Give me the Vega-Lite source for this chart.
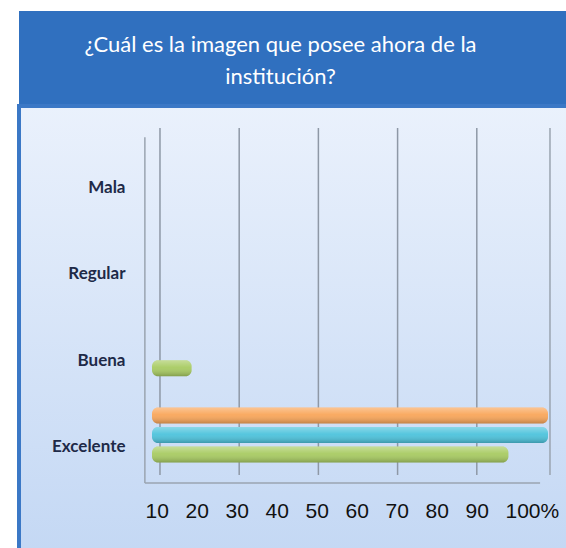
{
  "$schema": "https://vega.github.io/schema/vega-lite/v6.json",
  "padding": {"left": 17, "top": 11, "right": 0, "bottom": 0},
  "background": "white",
  "spacing": 0,
  "config": {"concat": {"spacing": 0}},
  "vconcat": [
    {
      "width": 549,
      "height": 93,
      "view": {"fill": "#3070BF", "stroke": null},
      "data": {"values": [{"t": "¿Cuál es la imagen que posee ahora de la\ninstitución?"}]},
      "mark": {"type": "text", "lineBreak": "\n", "font": "Lato", "fontSize": 22, "color": "white", "lineHeight": 32, "baseline": "middle", "align": "center", "dy": -13, "dx": -13},
      "encoding": {"text": {"field": "t"}}
    },
    {
      "width": 549,
      "height": 446,
      "view": {
        "fill": {"gradient": "linear", "x1": 0, "y1": 0, "x2": 0, "y2": 1, "stops": [{"offset": 0, "color": "#EAF1FC"}, {"offset": 1, "color": "#C4D8F4"}]},
        "stroke": "#3B78C6",
        "strokeWidth": 4
      },
      "data": {"values": [
        {"cat": "Excelente", "serie": "A", "pct": 100},
        {"cat": "Excelente", "serie": "B", "pct": 100},
        {"cat": "Excelente", "serie": "C", "pct": 90},
        {"cat": "Buena", "serie": "C", "pct": 10}
      ]},
      "resolve": {"scale": {"x": "independent"}, "axis": {"x": "independent"}},
      "layer": [
        {
          "data": {"values": [{"g": 0}, {"g": 20}, {"g": 40}, {"g": 60}, {"g": 80}]},
          "mark": {"type": "rule", "color": "#8E98A6", "strokeWidth": 1.5},
          "encoding": {
            "x": {"field": "g", "type": "quantitative", "scale": {"domain": [-35.6, 103.03], "nice": false, "zero": false}, "axis": null},
            "y": {"datum": "Mala", "type": "nominal", "bandPosition": -0.056},
            "y2": {"datum": "Excelente", "bandPosition": 0.963}
          }
        },
        {
          "data": {"values": [{"f": 1}]},
          "mark": {"type": "rule", "color": "#9AA4B0", "strokeWidth": 1.5},
          "encoding": {
            "x": {"datum": -1.8, "type": "quantitative", "scale": {"domain": [-33.586, 105.05], "nice": false, "zero": false}, "axis": null},
            "y": {"datum": "Mala", "type": "nominal", "bandPosition": 0.05},
            "y2": {"datum": "Excelente", "bandPosition": 1.056}
          }
        },
        {
          "data": {"values": [{"f": 1}]},
          "mark": {"type": "rule", "color": "#9AA4B0", "strokeWidth": 1.5},
          "encoding": {
            "x": {"datum": 100.5, "type": "quantitative", "scale": {"domain": [-33.586, 105.05], "nice": false, "zero": false}, "axis": null},
            "y": {"datum": "Mala", "type": "nominal", "bandPosition": -0.056},
            "y2": {"datum": "Excelente", "bandPosition": 0.963}
          }
        },
        {
          "data": {"values": [{"f": 1}]},
          "mark": {"type": "rule", "color": "#9AA4B0", "strokeWidth": 1.5},
          "encoding": {
            "x": {"datum": -1.8, "type": "quantitative", "scale": {"domain": [-33.586, 105.05], "nice": false, "zero": false}, "axis": null},
            "x2": {"datum": 98},
            "y": {"datum": "Excelente", "type": "nominal", "bandPosition": 1.056}
          }
        },
        {
          "mark": {"type": "bar", "cornerRadiusEnd": 6},
          "encoding": {
            "y": {
              "field": "cat", "type": "nominal", "title": null,
              "scale": {"domain": ["Mala", "Regular", "Buena", "Excelente"], "range": [26.83, 372.17], "paddingInner": 0, "paddingOuter": 0},
              "axis": {"offset": -108, "labelOffset": 12, "ticks": false, "domain": false, "grid": false, "labelPadding": 2, "labelFont": "Lato", "labelFontWeight": "bold", "labelFontSize": 17, "labelColor": "#1E2A48"}
            },
            "yOffset": {"field": "serie", "scale": {"domain": ["A", "B", "C"], "paddingInner": 0.18, "paddingOuter": 0.8}},
            "x": {"field": "pct", "type": "quantitative", "scale": {"domain": [-33.586, 105.05], "nice": false, "zero": false}, "axis": null},
            "x2": {"datum": 0},
            "color": {"field": "serie", "scale": {"domain": ["A", "B", "C"], "range": ["#F9A65A", "#4DC3DC", "#A8CB62"]}, "legend": null}
          }
        },
        {
          "mark": {"type": "bar", "cornerRadiusEnd": 6, "fill": {"gradient": "linear", "x1": 0, "y1": 0, "x2": 0, "y2": 1, "stops": [{"offset": 0, "color": "rgba(255,255,255,0.35)"}, {"offset": 0.45, "color": "rgba(255,255,255,0.05)"}, {"offset": 1, "color": "rgba(0,0,0,0.22)"}]}},
          "encoding": {
            "y": {"field": "cat", "type": "nominal"},
            "yOffset": {"field": "serie"},
            "x": {"field": "pct", "type": "quantitative", "scale": {"domain": [-33.586, 105.05], "nice": false, "zero": false}, "axis": null},
            "x2": {"datum": 0}
          }
        },
        {
          "mark": {"type": "point", "opacity": 0},
          "encoding": {
            "y": {"field": "cat", "type": "nominal"},
            "x": {
              "field": "pct", "type": "quantitative",
              "scale": {"domain": [-21.5, 115.75], "nice": false, "zero": false},
              "axis": {"orient": "bottom", "values": [10, 20, 30, 40, 50, 60, 70, 80, 90, 100], "labelExpr": "datum.value == 100 ? '100%' : datum.label", "offset": -35, "ticks": false, "domain": false, "grid": false, "labelPadding": 0, "labelBaseline": "alphabetic", "labelAlign": "left", "labelFont": "Liberation Sans", "labelFontSize": 21, "labelColor": "#111111", "labelFlush": false, "labelOverlap": false, "title": null}
            }
          }
        }
      ]
    }
  ]
}
